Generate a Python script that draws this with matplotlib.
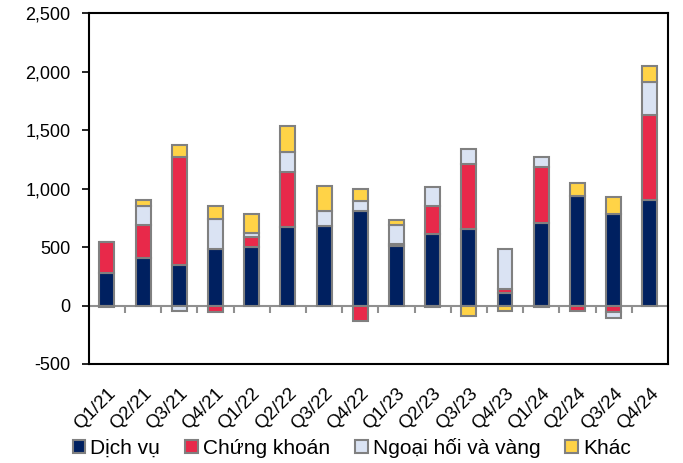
import numpy as np
import matplotlib.pyplot as plt
from matplotlib.ticker import FuncFormatter

plt.rcParams['font.family'] = ['Liberation Sans', 'DejaVu Sans']

quarters = ['Q1/21', 'Q2/21', 'Q3/21', 'Q4/21', 'Q1/22', 'Q2/22', 'Q3/22', 'Q4/22',
            'Q1/23', 'Q2/23', 'Q3/23', 'Q4/23', 'Q1/24', 'Q2/24', 'Q3/24', 'Q4/24']
dich_vu = [280, 408, 349, 486, 503, 672, 677, 812, 506, 615, 657, 106, 706, 937, 786, 903]
chung_khoan = [265, 283, 920, -57, 81, 468, 0, -129, 23, 234, 552, 31, 480, -45, -57, 726]
ngoai_hoi = [-12, 159, -50, 257, 36, 171, 132, 83, 163, 166, 131, 349, 88, 0, -54, 286]
khac = [0, 56, 102, 112, 166, 229, 211, 105, 43, -10, -91, -43, -12, 109, 146, 137]

series = [('Dịch vụ', dich_vu, '#002060'),
          ('Chứng khoán', chung_khoan, '#E8294A'),
          ('Ngoại hối và vàng', ngoai_hoi, '#DAE3F3'),
          ('Khác', khac, '#FFD347')]

fig = plt.figure(figsize=(6.83, 4.63), dpi=100)
ax = fig.add_axes([0.130, 0.214, 0.848, 0.757])

x = np.arange(len(quarters))
pos_bottom = np.zeros(len(quarters))
neg_bottom = np.zeros(len(quarters))
for name, vals, color in series:
    v = np.array(vals, dtype=float)
    bottom = np.where(v >= 0, pos_bottom, neg_bottom)
    ax.bar(x, v, 0.41, bottom=bottom, color=color, edgecolor='#808080',
           linewidth=1.5, label=name, zorder=3)
    pos_bottom += np.where(v > 0, v, 0)
    neg_bottom += np.where(v < 0, v, 0)

ax.set_xlim(-0.5, len(quarters) - 0.5)
ax.set_ylim(-500, 2500)
ax.set_yticks(np.arange(-500, 2501, 500))
ax.yaxis.set_major_formatter(FuncFormatter(lambda v, p: f'{v:,.0f}'))
ax.tick_params(axis='y', labelsize=13, length=5, width=1.2, color='black', pad=8)

ax.set_xticks(x)
ax.set_xticklabels(quarters, rotation=45, ha='right', rotation_mode='anchor', fontsize=13.5)
ax.tick_params(axis='x', length=0, pad=15)

for s in ax.spines.values():
    s.set_linewidth(1.5)
    s.set_color('black')

# zero line with tick marks between categories
sec = ax.secondary_xaxis(500 / 3000)
sec.spines['bottom'].set_color('#909090')
sec.spines['bottom'].set_linewidth(1.5)
sec.set_xticks(x[:-1] + 0.5)
sec.set_xticklabels([])
sec.tick_params(length=5, width=1.5, color='#909090', direction='out')

ax.legend(loc='center', bbox_to_anchor=(0.454, -0.24), ncol=4, frameon=False,
          fontsize=15, handlelength=0.6, handleheight=0.6, handletextpad=0.25,
          columnspacing=1.2, borderaxespad=0)

fig.savefig('out.png', dpi=100)
